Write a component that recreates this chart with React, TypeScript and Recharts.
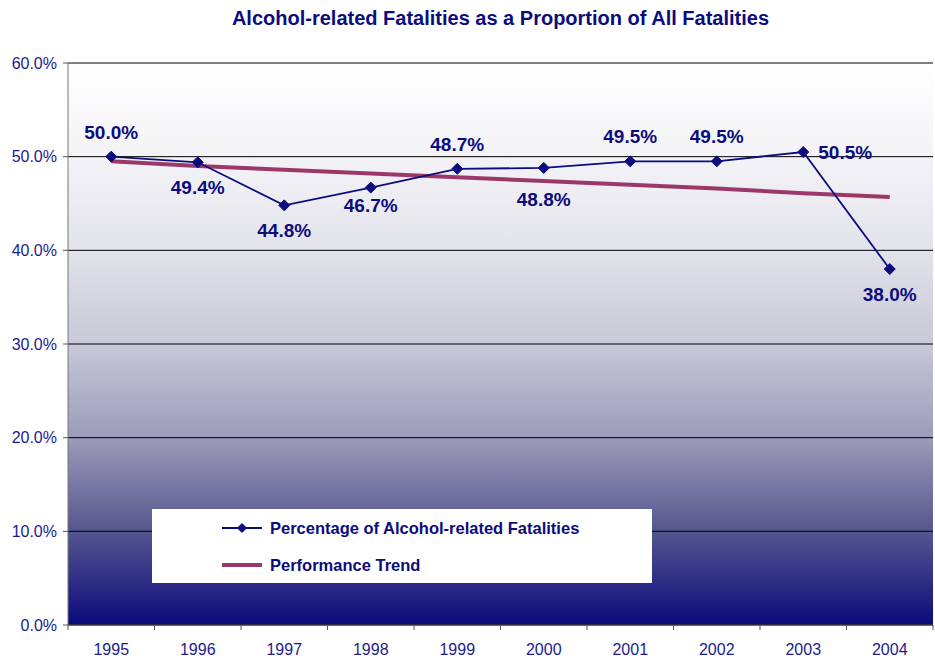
import React from 'react';
import { ComposedChart, Line, XAxis, YAxis, CartesianGrid, Legend, LabelList } from 'recharts';

const years = ['1995', '1996', '1997', '1998', '1999', '2000', '2001', '2002', '2003', '2004'];
const alcoholShare = [50.0, 49.4, 44.8, 46.7, 48.7, 48.8, 49.5, 49.5, 50.5, 38.0];
const trendLine = [49.5, 49.0, 48.6, 48.2, 47.8, 47.4, 47.0, 46.6, 46.1, 45.7];
const yTicks = [0, 10, 20, 30, 40, 50, 60];
// where each value label sits relative to its point
const labelSide = ['above', 'below', 'below', 'below-near', 'above', 'below-far', 'above', 'above', 'right', 'below'];

const data = years.map((year, i) => ({ year, share: alcoholShare[i], trend: trendLine[i] }));

const NAVY = '#0c0c7e';
const TREND = '#9b3868';
const FONT = 'Liberation Sans, Arial, sans-serif';
const W = 935;
const H = 663;
const LEFT = 68;
const RIGHT = 2;
const BAND = (W - LEFT - RIGHT) / years.length;

const Diamond = (props: any) => {
  const { cx, cy } = props;
  if (cx == null || cy == null) return null;
  const r = 5.5;
  return <polygon points={`${cx},${cy - r} ${cx + r},${cy} ${cx},${cy + r} ${cx - r},${cy}`} fill={NAVY} stroke={NAVY} />;
};

const ValueLabel = (props: any) => {
  const { x, y, value, index } = props;
  const side = labelSide[index];
  let tx = x;
  let ty = y;
  let anchor: 'middle' | 'start' = 'middle';
  if (side === 'above') ty = y - 25;
  else if (side === 'below') ty = y + 25;
  else if (side === 'below-near') ty = y + 18;
  else if (side === 'below-far') ty = y + 31;
  else {
    tx = x + 15;
    anchor = 'start';
  }
  return (
    <text x={tx} y={ty} dy="0.36em" textAnchor={anchor} fill={NAVY} fontSize={19} fontWeight="bold" fontFamily={FONT}>
      {Number(value).toFixed(1)}%
    </text>
  );
};

const YearTick = (props: any) => {
  const { x, y, payload, index } = props;
  return (
    <g>
      <line x1={x - BAND / 2} y1={y} x2={x - BAND / 2} y2={y + 5} stroke="#555" />
      {index === years.length - 1 && <line x1={x + BAND / 2} y1={y} x2={x + BAND / 2} y2={y + 5} stroke="#555" />}
      <text x={x} y={y + 30} textAnchor="middle" fill="#1c1c8e" fontSize={16} fontFamily={FONT}>
        {payload.value}
      </text>
    </g>
  );
};

const LegendBox = () => (
  <div style={{ background: '#fff', width: 500, height: 74, position: 'relative', fontFamily: FONT }}>
    <svg width={500} height={74} style={{ position: 'absolute', left: 0, top: 0 }}>
      <line x1={70} y1={19} x2={110} y2={19} stroke={NAVY} strokeWidth={2} />
      <polygon points="90,14 95,19 90,24 85,19" fill={NAVY} />
      <line x1={70} y1={56} x2={110} y2={56} stroke={TREND} strokeWidth={4} />
      <text x={118} y={19} dy="0.36em" fill={NAVY} fontSize={16.5} fontWeight="bold">Percentage of Alcohol-related Fatalities</text>
      <text x={118} y={56} dy="0.36em" fill={NAVY} fontSize={16.5} fontWeight="bold">Performance Trend</text>
    </svg>
  </div>
);

export default function App() {
  return (
    <div style={{ position: 'absolute', left: 0, top: 0, width: W, height: H, background: '#fff' }}>
      <div
        style={{
          position: 'absolute',
          left: LEFT,
          width: W - LEFT - RIGHT,
          top: 7,
          textAlign: 'center',
          color: NAVY,
          fontWeight: 'bold',
          fontSize: 20,
          fontFamily: FONT,
        }}
      >
        Alcohol-related Fatalities as a Proportion of All Fatalities
      </div>
      <ComposedChart width={W} height={H} data={data} margin={{ top: 63, right: RIGHT, bottom: 0, left: 0 }}>
        <defs>
          <linearGradient id="plotBg" x1="0" y1="0" x2="0" y2="1">
            <stop offset="0%" stopColor="#ffffff" />
            <stop offset="17%" stopColor="#f3f3f7" />
            <stop offset="33%" stopColor="#e3e3eb" />
            <stop offset="50%" stopColor="#c8c8d7" />
            <stop offset="67%" stopColor="#9a9aba" />
            <stop offset="83%" stopColor="#57578f" />
            <stop offset="100%" stopColor="#0a0a7c" />
          </linearGradient>
        </defs>
        <CartesianGrid vertical={false} stroke="#000" fill="url(#plotBg)" fillOpacity={1} />
        <XAxis
          dataKey="year"
          scale="band"
          axisLine={{ stroke: '#555' }}
          tickLine={false}
          tickSize={0}
          tickMargin={0}
          tick={<YearTick />}
          interval={0}
          height={38}
        />
        <YAxis
          domain={[0, 60]}
          ticks={yTicks}
          width={LEFT}
          axisLine={{ stroke: '#777' }}
          tickLine={{ stroke: '#555' }}
          tickSize={5}
          tickMargin={6}
          tickFormatter={(v: number) => `${v.toFixed(1)}%`}
          tick={{ fill: '#1c1c8e', fontSize: 16, fontFamily: FONT }}
        />
        <Legend
          layout="vertical"
          align="center"
          verticalAlign="middle"
          content={<LegendBox />}
          wrapperStyle={{ left: 152, top: 509, width: 500, height: 74 }}
        />
        <Line type="linear" dataKey="trend" stroke={TREND} strokeWidth={4} dot={false} isAnimationActive={false} />
        <Line type="linear" dataKey="share" stroke={NAVY} strokeWidth={1.8} dot={<Diamond />} activeDot={false} isAnimationActive={false}>
          <LabelList dataKey="share" content={<ValueLabel />} />
        </Line>
      </ComposedChart>
    </div>
  );
}
